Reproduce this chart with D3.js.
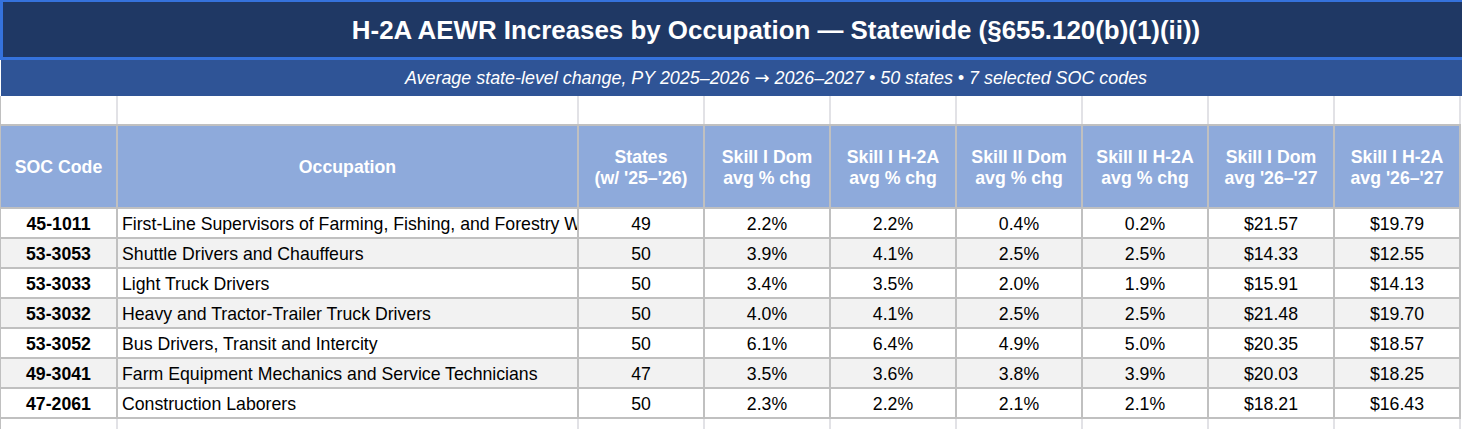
<!DOCTYPE html>
<html>
<head>
<meta charset="utf-8">
<script src="https://cdn.jsdelivr.net/npm/d3@7"></script>
<style>
  html, body { margin: 0; padding: 0; background: #fff; }
  svg { display: block; font-family: "Liberation Sans", Arial, Helvetica, sans-serif; }
</style>
</head>
<body>
<script>
// table values
const socCodes = ["45-1011", "53-3053", "53-3033", "53-3032", "53-3052", "49-3041", "47-2061"]
const occupations = [
  "First-Line Supervisors of Farming, Fishing, and Forestry Workers",
  "Shuttle Drivers and Chauffeurs",
  "Light Truck Drivers",
  "Heavy and Tractor-Trailer Truck Drivers",
  "Bus Drivers, Transit and Intercity",
  "Farm Equipment Mechanics and Service Technicians",
  "Construction Laborers"
]
const statesCount = [49, 50, 50, 50, 50, 47, 50]
const skill1DomChg = [2.2, 3.9, 3.4, 4.0, 6.1, 3.5, 2.3]
const skill1H2aChg = [2.2, 4.1, 3.5, 4.1, 6.4, 3.6, 2.2]
const skill2DomChg = [0.4, 2.5, 2.0, 2.5, 4.9, 3.8, 2.1]
const skill2H2aChg = [0.2, 2.5, 1.9, 2.5, 5.0, 3.9, 2.1]
const skill1DomWage = [21.57, 14.33, 15.91, 21.48, 20.35, 20.03, 18.21]
const skill1H2aWage = [19.79, 12.55, 14.13, 19.70, 18.57, 18.25, 16.43]

const headers = [
  ["SOC Code"],
  ["Occupation"],
  ["States", "(w/ '25\u2013'26)"],
  ["Skill I Dom", "avg % chg"],
  ["Skill I H-2A", "avg % chg"],
  ["Skill II Dom", "avg % chg"],
  ["Skill II H-2A", "avg % chg"],
  ["Skill I Dom", "avg '26\u2013'27"],
  ["Skill I H-2A", "avg '26\u2013'27"]
]

const title = "H-2A AEWR Increases by Occupation \u2014 Statewide (\u00a7655.120(b)(1)(ii))"
// subtitle in pieces so the arrow can use a font that draws it full size
const subtitleParts = [
  "Average state-level change, PY 2025\u20132026 ",
  "\u2192",
  " 2026\u20132027 \u2022 50 states \u2022 7 selected SOC codes"
]

const width = 1462
const height = 429
const colWidths = [117, 461, 126, 126, 126, 126, 126, 126, 126]
const colEdges = [0, ...d3.cumsum(colWidths)]
const fontSize = 17.7

const pct = v => d3.format(".1f")(v) + "%"
const usd = v => "$" + d3.format(".2f")(v)

const columns = [
  { values: socCodes, fmt: d => d, bold: true, align: "middle" },
  { values: occupations, fmt: d => d, align: "start" },
  { values: statesCount, fmt: d => d, align: "middle" },
  { values: skill1DomChg, fmt: pct, align: "middle" },
  { values: skill1H2aChg, fmt: pct, align: "middle" },
  { values: skill2DomChg, fmt: pct, align: "middle" },
  { values: skill2H2aChg, fmt: pct, align: "middle" },
  { values: skill1DomWage, fmt: usd, align: "middle" },
  { values: skill1H2aWage, fmt: usd, align: "middle" }
]

const x = d3.scaleOrdinal().domain(d3.range(colWidths.length)).range(colEdges.slice(0, -1))
const colW = i => colWidths[i]

const band = { titleTop: 2, titleBottom: 57, subTop: 60, subBottom: 96, blankBottom: 124, headTop: 126, headBottom: 208, tableBottom: 418 }

const y = d3.scaleBand()
  .domain(d3.range(socCodes.length))
  .range([band.headBottom, band.tableBottom])
  .paddingInner(0)

const svg = d3.select("body")
  .append("svg")
  .attr("width", width)
  .attr("height", height)
  .attr("viewBox", [0, 0, width, height])

// clip paths so long text gets cut at the cell edge
const defs = svg.append("defs")
colWidths.forEach((w, i) => {
  defs.append("clipPath")
    .attr("id", "clip" + i)
    .append("rect")
    .attr("x", x(i) + 1)
    .attr("y", 0)
    .attr("width", w - 2)
    .attr("height", height)
})

// title bands
svg.append("rect").attr("x", 0).attr("y", 0).attr("width", width).attr("height", band.subTop).attr("fill", "#3572dc")
svg.append("rect")
  .attr("x", 3).attr("y", band.titleTop)
  .attr("width", width - 3).attr("height", band.titleBottom - band.titleTop)
  .attr("fill", "#1f3864")
svg.append("rect")
  .attr("x", 1).attr("y", band.subTop)
  .attr("width", width - 1).attr("height", band.subBottom - band.subTop)
  .attr("fill", "#2f5496")

const centerX = 776
svg.append("text")
  .attr("x", centerX).attr("y", 38.8)
  .attr("text-anchor", "middle")
  .attr("font-size", 25.9)
  .attr("font-weight", "bold")
  .attr("fill", "#fff")
  .text(title)

svg.append("text")
  .attr("x", centerX).attr("y", 84.4)
  .attr("text-anchor", "middle")
  .attr("font-size", 17.9)
  .attr("font-style", "italic")
  .attr("fill", "#fff")
  .selectAll("tspan")
  .data(subtitleParts)
  .join("tspan")
    .attr("font-family", (d, i) => i === 1 ? "DejaVu Sans" : null)
    .attr("font-style", (d, i) => i === 1 ? "normal" : null)
    .attr("font-size", (d, i) => i === 1 ? 18 : null)
    .text(d => d)

// header fill
svg.append("rect")
  .attr("x", 0).attr("y", band.headTop)
  .attr("width", colEdges[colEdges.length - 1]).attr("height", band.headBottom - band.headTop)
  .attr("fill", "#8eaadb")

// body rows, alternating
svg.append("g")
  .selectAll("rect")
  .data(d3.range(socCodes.length))
  .join("rect")
    .attr("x", 0)
    .attr("y", d => y(d))
    .attr("width", colEdges[colEdges.length - 1])
    .attr("height", y.bandwidth())
    .attr("fill", d => d % 2 ? "#f2f2f2" : "#ffffff")

// light gridlines in the empty rows
const light = svg.append("g").attr("stroke", "#e2e2e6").attr("stroke-width", 2)
light.selectAll("line.top")
  .data(colEdges.slice(1))
  .join("line")
    .attr("x1", d => d).attr("x2", d => d)
    .attr("y1", band.subBottom).attr("y2", band.blankBottom)
light.selectAll("line.bot")
  .data(colEdges.slice(1))
  .join("line")
    .attr("class", "bot")
    .attr("x1", d => d).attr("x2", d => d)
    .attr("y1", band.tableBottom).attr("y2", height)

// grey borders
const grid = svg.append("g").attr("stroke", "#c0c0c0").attr("stroke-width", 2)
grid.selectAll("line.v")
  .data(colEdges.slice(1))
  .join("line")
    .attr("class", "v")
    .attr("x1", d => d).attr("x2", d => d)
    .attr("y1", band.headTop - 2).attr("y2", band.tableBottom + 1)
grid.selectAll("line.h")
  .data([band.headTop - 1, ...d3.range(socCodes.length).map(d => y(d)), band.tableBottom])
  .join("line")
    .attr("class", "h")
    .attr("x1", 0).attr("x2", colEdges[colEdges.length - 1] + 1)
    .attr("y1", d => d).attr("y2", d => d)
svg.append("line")
  .attr("x1", 0.5).attr("x2", 0.5)
  .attr("y1", band.subBottom).attr("y2", height)
  .attr("stroke", "#c0c0c0").attr("stroke-width", 1)

// header text
const headMid = (band.headTop + band.headBottom) / 2
const lineH = 21
svg.append("g")
  .attr("font-size", fontSize)
  .attr("font-weight", "bold")
  .attr("fill", "#fff")
  .attr("text-anchor", "middle")
  .selectAll("text")
  .data(headers)
  .join("text")
    .attr("x", (d, i) => x(i) + colW(i) / 2)
    .attr("y", d => headMid + 6.3 - (d.length - 1) * lineH / 2)
    .selectAll("tspan")
    .data(d => d)
    .join("tspan")
      .attr("x", function () { return d3.select(this.parentNode).attr("x") })
      .attr("dy", (d, i) => i ? lineH : 0)
      .text(d => d)

// body text
columns.forEach((col, ci) => {
  svg.append("g")
    .attr("clip-path", `url(#clip${ci})`)
    .attr("font-size", fontSize)
    .attr("font-weight", col.bold ? "bold" : "normal")
    .attr("fill", "#000")
    .attr("text-anchor", col.align)
    .selectAll("text")
    .data(col.values)
    .join("text")
      .attr("x", col.align === "start" ? x(ci) + 5 : x(ci) + colW(ci) / 2)
      .attr("y", (d, i) => y(i) + y.bandwidth() - 8)
      .text(col.fmt)
})
</script>
</body>
</html>
